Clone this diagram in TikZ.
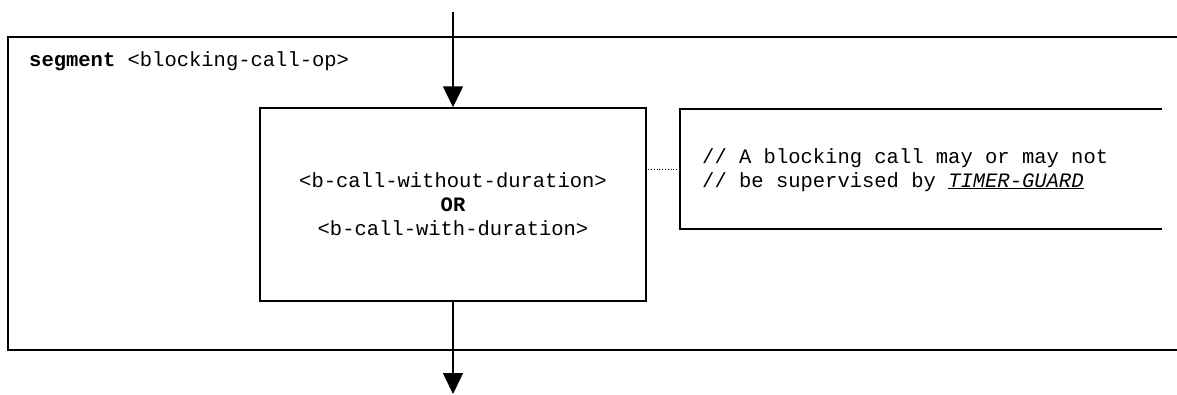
\documentclass[tikz,border=0pt]{standalone}
\usepackage{fontspec}
\setmainfont{Liberation Mono}
\usetikzlibrary{arrows.meta}
\begin{document}
\begin{tikzpicture}[x=1pt,y=-1pt,
  every node/.style={font=\fontsize{20.5}{24}\selectfont, inner sep=0pt},
  frameline/.style={line width=1.5pt},
  flow/.style={line width=1.5pt,-{Triangle[length=21pt,width=20pt]}},
  note/.style={line width=0.8pt,dotted}]
\useasboundingbox (0,0) rectangle (1177,394);
% outer segment frame (open on the right)
\coordinate (f1) at (1177,37);
\coordinate (f2) at (8,37);
\coordinate (f3) at (8,350);
\coordinate (f4) at (1177,350);
\draw[frameline] (f1) -- (f2) -- (f3) -- (f4);
\node[anchor=base west] (title) at (29,66) {\textbf{segment} <blocking-call-op>};
% main box
\node[draw, frameline, minimum width=386pt, minimum height=193pt, align=center] (main) at (453,204.5)
  {<b-call-without-duration>\\\textbf{OR}\\<b-call-with-duration>};
% comment box (open on the right)
\node[minimum width=482pt, minimum height=120pt] (cmt) at (921,169) {};
\draw[frameline] (cmt.north east) -- (cmt.north west) -- (cmt.south west) -- (cmt.south east);
\node[anchor=base west, align=left] (ctext) at (702,187)
  {// A blocking call may or may not\\// be supervised by \underline{\textit{TIMER-GUARD}}};
\draw[note] (cmt.west) -- (cmt.west -| main.east);
% flow arrows
\coordinate (in) at (453,12);
\coordinate (out) at (453,394);
\draw[flow] (in) -- (main.north);
\draw[flow] (main.south) -- (out);
\end{tikzpicture}
\end{document}
